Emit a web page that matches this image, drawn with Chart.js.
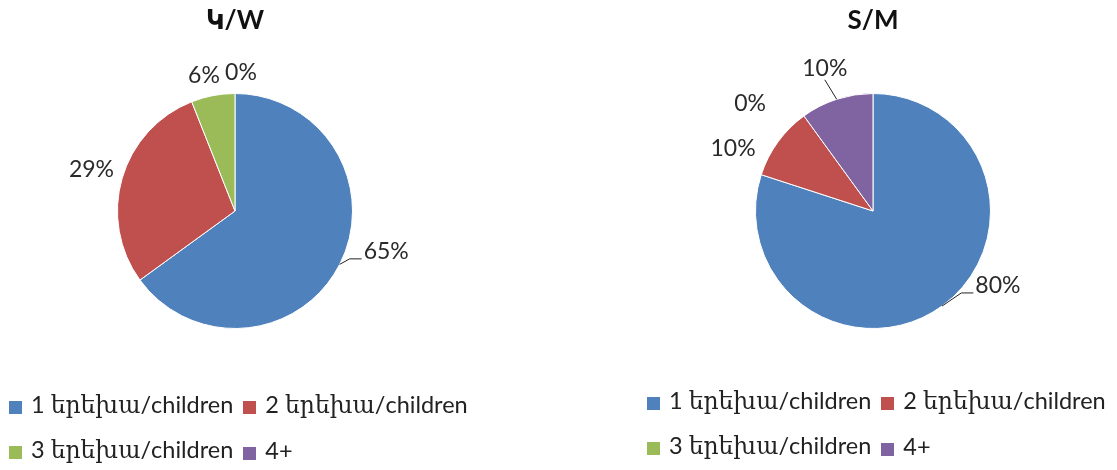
<!DOCTYPE html>
<html>
<head>
<meta charset="utf-8">
<script src="https://cdn.jsdelivr.net/npm/chart.js@4.4.1/dist/chart.umd.min.js"></script>
<style>
  body { margin: 0; background: #fff; width: 1117px; height: 470px; position: relative; overflow: hidden; }
  .box { position: absolute; top: 0; height: 470px; }
  .legend { position: absolute; display: grid; grid-template-columns: auto auto; grid-auto-rows: 45px;
            column-gap: 10px; align-items: center; justify-content: start;
            font-family: Lato, "DejaVu Serif"; font-size: 23.5px; color: #222; white-space: nowrap; }
  .legend span.sw { display: inline-block; width: 13px; height: 13px; margin-right: 9px; vertical-align: -1px; }
</style>
</head>
<body>
<div class="box" id="leftBox" style="left:0;width:476px"><canvas id="womenChart"></canvas>
  <div class="legend" id="womenLegend" style="left:9px;top:382px"></div></div>
<div class="box" id="rightBox" style="left:636px;width:481px"><canvas id="menChart"></canvas>
  <div class="legend" id="menLegend" style="left:11px;top:378px"></div></div>
<script>
// data
const categories = ["1 երեխա/children", "2 երեխա/children", "3 երեխա/children", "4+"];
const womenShares = [65, 29, 6, 0];
const menShares = [80, 10, 0, 10];
const chartTitles = ["Կ/W", "S/M"];

const sliceColors = ["#4F81BD", "#C0504D", "#9BBB59", "#8064A2"];

// percent labels outside the pie, with Excel-ish leader lines
const sliceLabels = {
    id: "sliceLabels",
    afterDatasetsDraw(chart, args, opts) {
        const ctx = chart.ctx;
        const meta = chart.getDatasetMeta(0);
        const values = chart.data.datasets[0].data;
        ctx.save();
        ctx.font = "23px Lato";
        ctx.fillStyle = "#2a2a2a";
        ctx.strokeStyle = "#222";
        ctx.lineWidth = 1;
        ctx.textAlign = "center";
        ctx.textBaseline = "middle";
        meta.data.forEach((arc, i) => {
            const p = arc.getProps(["x", "y", "startAngle", "endAngle", "outerRadius"], true);
            const mid = (p.startAngle + p.endAngle) / 2;
            const dx = Math.cos(mid), dy = Math.sin(mid);
            const shift = opts.shift[i] || [0, 0];
            const cx = p.x + dx * (p.outerRadius + 32) + shift[0];
            const cy = p.y + dy * (p.outerRadius + 32) + shift[1];
            const text = values[i] + "%";
            const w = ctx.measureText(text).width;
            const ex = p.x + dx * p.outerRadius, ey = p.y + dy * p.outerRadius;
            if (opts.leader[i] === "elbow") {
                const ly = cy + 7;
                ctx.beginPath();
                ctx.moveTo(ex, ey);
                ctx.lineTo(cx - w / 2 - 14, ly);
                ctx.lineTo(cx - w / 2 - 2, ly);
                ctx.stroke();
            } else if (opts.leader[i] === "straight") {
                ctx.beginPath();
                ctx.moveTo(cx, cy + 11);
                ctx.lineTo(ex, ey);
                ctx.stroke();
            }
            ctx.fillText(text, cx, cy);
        });
        ctx.restore();
    }
};

function buildLegend(id) {
    const el = document.getElementById(id);
    el.innerHTML = categories.map((c, i) =>
        `<div><span class="sw" style="background:${sliceColors[i]}"></span>${c}</div>`).join("");
}

function makePie(canvasId, values, title, padRight, labelOpts) {
    const ctx = document.getElementById(canvasId).getContext("2d");
    return new Chart(ctx, {
        type: "pie",
        data: {
            labels: categories,
            datasets: [{
                data: values,
                backgroundColor: sliceColors,
                borderColor: "#fff",
                borderWidth: 1
            }]
        },
        options: {
            responsive: true,
            maintainAspectRatio: false,
            animation: false,
            events: [],
            layout: { padding: { top: 0, bottom: 141, left: 0, right: padRight } },
            plugins: {
                legend: { display: false },
                tooltip: { enabled: false },
                title: {
                    display: true,
                    text: title,
                    color: "#111",
                    font: { family: "Lato, 'DejaVu Sans'", size: 26, weight: "bold" },
                    padding: { top: 5, bottom: 56.8 }
                },
                sliceLabels: labelOpts
            }
        },
        plugins: [sliceLabels]
    });
}

makePie("womenChart", womenShares, chartTitles[0], 6, {
    shift: [[18, -27], [0, 0], [-3, 11], [6, 11]],
    leader: ["elbow", null, null, null]
});
makePie("menChart", menShares, chartTitles[1], 7, {
    shift: [[37, -46], [-19, 25], [-35, 14], [-2, 0]],
    leader: ["elbow", null, null, "straight"]
});
buildLegend("womenLegend");
buildLegend("menLegend");
</script>
</body>
</html>
